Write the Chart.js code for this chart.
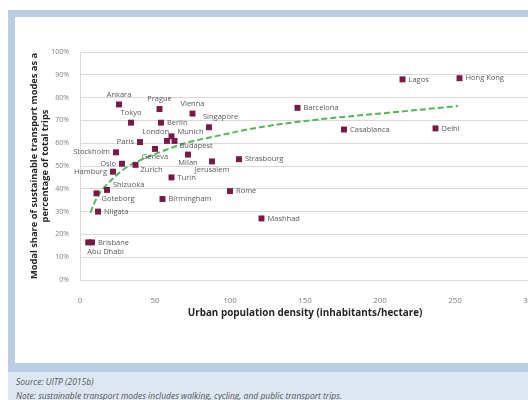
<!DOCTYPE html>
<html>
<head>
<meta charset="utf-8">
<script src="https://cdn.jsdelivr.net/npm/chart.js@4"></script>
<style>
  html, body { margin: 0; padding: 0; background: #fff; }
  #wrap { position: relative; width: 528px; height: 400px; overflow: hidden; }
  .band { position: absolute; left: 8px; top: 10px; width: 520px; height: 362px; background: #b9cde5; }
  .panel { position: absolute; left: 15px; top: 17px; width: 513px; height: 346px; background: #fff; }
  .foot { position: absolute; left: 8px; top: 372px; width: 520px; height: 28px; background: #dde7f3; }
  .note { position: absolute; left: 16px; font: italic 8.5px "Open Sans", sans-serif; color: #555; white-space: nowrap; }
  canvas { position: absolute; left: 0; top: 0; }
</style>
</head>
<body>
<div id="wrap">
  <div class="band"></div>
  <div class="panel"></div>
  <div class="foot"></div>
  <div class="note" style="top:376px">Source: UITP (2015b)</div>
  <div class="note" style="top:390px">Note: sustainable transport modes includes walking, cycling, and public transport trips.</div>
  <canvas id="chart" width="560" height="400"></canvas>
</div>
<script>
// city points
const cities = ['Ankara', 'Prague', 'Vienna', 'Tokyo', 'Berlin', 'Singapore', 'London', 'Munich',
  'Budapest', 'Paris', 'Geneva', 'Stockholm', 'Milan', 'Jerusalem', 'Strasbourg', 'Oslo', 'Zurich',
  'Hamburg', 'Turin', 'Shizuoka', 'Goteborg', 'Birmingham', 'Rome', 'Niigata', 'Mashhad',
  'Brisbane', 'Abu Dhabi', 'Barcelona', 'Lagos', 'Hong Kong', 'Casablanca', 'Delhi'];
const density = [26, 53, 75, 34, 54, 86, 58, 61, 63, 40, 50, 24, 72, 88, 106, 28, 37,
  22, 61, 18, 11, 55, 100, 12, 121, 8, 5.5, 145, 215, 253, 176, 237];
const share = [77, 75, 73, 69, 69, 67, 61, 63, 61, 60.5, 57.5, 56, 55, 52, 53, 51, 50.5,
  47.5, 45, 39.5, 38, 35.5, 39, 30, 27, 16.5, 16.5, 75.5, 88, 88.5, 66, 66.5];
const labelSide = ['above', 'above', 'above', 'above', 'right', 'aboveRight', 'upLeft', 'upRight',
  'downRight', 'left', 'below', 'left', 'below', 'below', 'right', 'left', 'downRight',
  'left', 'right', 'upRight', 'downRight', 'right', 'right', 'right', 'right',
  'right', 'belowStart', 'right', 'right', 'right', 'right', 'right'];

// trend line
const trendX = [7, 9, 12, 16, 22, 30, 40, 55, 70, 90, 120, 160, 200, 252];
const trendY = [29.5, 33, 37, 40.5, 44.5, 49, 52.5, 56.5, 60, 63, 67, 70.5, 73, 76.3];

const xTicks = [0, 50, 100, 150, 200, 250, 300];

const pointLabels = {
  id: 'pointLabels',
  afterDatasetsDraw(chart) {
    const ctx = chart.ctx;
    const meta = chart.getDatasetMeta(0);
    ctx.save();
    ctx.font = '7.5px "Open Sans", sans-serif';
    ctx.fillStyle = '#595959';
    ctx.textBaseline = 'middle';
    meta.data.forEach((pt, i) => {
      let x = pt.x, y = pt.y, align = 'left';
      switch (labelSide[i]) {
        case 'right': x += 6; break;
        case 'left': x -= 6; align = 'right'; break;
        case 'above': y -= 10; align = 'center'; break;
        case 'below': y += 8; align = 'center'; break;
        case 'aboveRight': x -= 6; y -= 10; break;
        case 'upRight': x += 6; y -= 5; break;
        case 'downRight': x += 5; y += 5; break;
        case 'upLeft': x += 2; y -= 9; align = 'right'; break;
        case 'belowStart': x -= 1; y += 9; break;
      }
      ctx.textAlign = align;
      ctx.fillText(cities[i], x, y);
    });
    ctx.restore();
  }
};

new Chart(document.getElementById('chart'), {
  type: 'scatter',
  data: {
    datasets: [{
      label: 'Cities',
      data: density.map((d, i) => ({ x: d, y: share[i] })),
      pointStyle: 'rect',
      pointRadius: 4.2,
      backgroundColor: '#7b1848',
      borderWidth: 0
    }, {
      type: 'line',
      label: 'Trend',
      data: trendX.map((d, i) => ({ x: d, y: trendY[i] })),
      borderColor: '#55b558',
      borderWidth: 2,
      borderDash: [6, 3],
      pointRadius: 0,
      cubicInterpolationMode: 'monotone',
      fill: false
    }]
  },
  options: {
    responsive: false,
    animation: false,
    layout: { padding: { top: 52, right: 30, left: 0, bottom: 0 } },
    plugins: { legend: { display: false }, tooltip: { enabled: false } },
    scales: {
      x: {
        type: 'linear', min: 0, max: 300,
        afterBuildTicks: s => { s.ticks = xTicks.map(v => ({ value: v })); },
        afterFit: s => { s.height = 120; },
        grid: { display: false },
        border: { display: false },
        ticks: { color: '#7f7f7f', font: { family: 'Open Sans', size: 8 }, padding: 8, maxRotation: 0 },
        title: {
          display: true,
          text: 'Urban population density (inhabitants/hectare)',
          color: '#262626',
          font: { family: 'Open Sans', size: 9.9, weight: 'bold' },
          padding: { top: 0, bottom: 81 }
        }
      },
      y: {
        min: 0, max: 100,
        afterFit: s => { s.width = 80; },
        grid: { color: '#d9d9d9', drawTicks: false },
        border: { display: true, color: '#d9d9d9' },
        ticks: { stepSize: 10, color: '#7f7f7f', font: { family: 'Open Sans', size: 7 }, padding: 11,
          callback: v => v + '%' },
        title: {
          display: true,
          text: ['Modal share of sustainable transport modes as a', 'percentage of total trips'],
          color: '#262626',
          font: { family: 'Open Sans', size: 9.3, weight: 'bold', lineHeight: 1.2 },
          padding: { top: 28.5, bottom: 0 }
        }
      }
    }
  },
  plugins: [pointLabels]
});
</script>
</body>
</html>
